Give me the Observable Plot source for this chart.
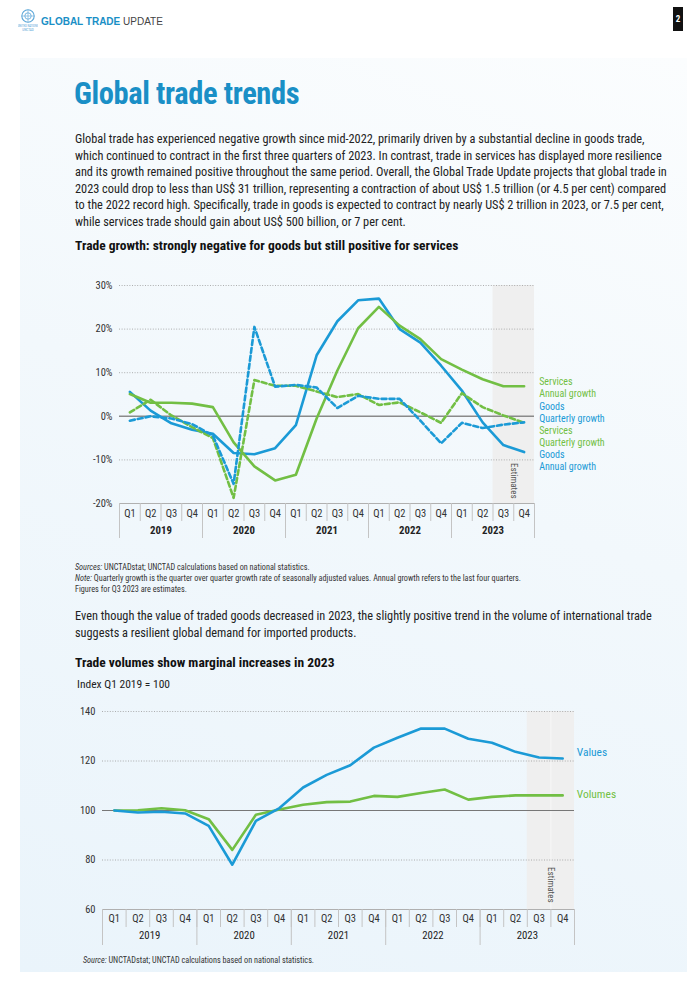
<!DOCTYPE html>
<html>
<head>
<meta charset="utf-8">
<script src="https://cdn.jsdelivr.net/npm/d3@7"></script>
<script src="https://cdn.jsdelivr.net/npm/@observablehq/plot@0.6"></script>
<style>
  html, body { margin: 0; padding: 0; background: #fff; }
  body { width: 700px; height: 990px; position: relative; overflow: hidden;
         font-family: "Liberation Sans Narrow", "Roboto Condensed", "Roboto", sans-serif; color: #222; }
  .abs { position: absolute; }
  #panel { left: 20px; top: 58px; width: 667px; height: 914px;
           background: linear-gradient(20deg, #eaf4fb 0%, #f2f8fc 55%, #fbfdfe 100%); }
  #hdr { left: 41px; top: 16px; font-size: 10px; letter-spacing: 0; color: #444; font-family: "Liberation Sans", Arial, sans-serif; }
  #hdr b { color: #1a8fc6; }
  #pnum { left: 673px; top: 7px; width: 10px; height: 24px; background: #111; color: #fff;
          font-size: 9px; font-weight: bold; text-align: center; line-height: 24px; }
  #title { left: 74px; top: 76px; font-size: 30.5px; font-weight: bold; color: #1a8fc6; letter-spacing: -0.4px; }
  .para { left: 75px; width: 552px; font-size: 12.3px; line-height: 16.6px; color: #222; }
  .para div { text-align: justify; text-align-last: justify; white-space: nowrap; }
  .para div.last { text-align-last: left; }
  .ctitle { left: 75px; font-size: 13.5px; font-weight: bold; color: #111; }
  .note { left: 75px; font-size: 8.2px; line-height: 11px; color: #333; }
  .note i { font-style: italic; }
  #c1 { left: 60px; top: 275px; }
  #c2 { left: 60px; top: 700px; }
</style>
</head>
<body>
<div id="panel" class="abs"></div>

<svg class="abs" style="left:18px;top:8px" width="20" height="24" viewBox="0 0 20 24">
  <circle cx="10" cy="8" r="6.2" fill="none" stroke="#5aa6d8" stroke-width="1.1"/>
  <circle cx="10" cy="8" r="3.2" fill="none" stroke="#5aa6d8" stroke-width="0.8"/>
  <line x1="3.8" y1="8" x2="16.2" y2="8" stroke="#5aa6d8" stroke-width="0.6"/>
  <line x1="10" y1="1.8" x2="10" y2="14.2" stroke="#5aa6d8" stroke-width="0.6"/>
  <text x="10" y="19" font-size="3" text-anchor="middle" fill="#5aa6d8">UNITED NATIONS</text>
  <text x="10" y="23" font-size="3.4" text-anchor="middle" fill="#5aa6d8">UNCTAD</text>
</svg>
<div id="hdr" class="abs"><b>GLOBAL TRADE</b> UPDATE</div>
<div id="pnum" class="abs">2</div>

<div id="title" class="abs">Global trade trends</div>

<div class="para abs" style="top:131px">
  <div>Global trade has experienced negative growth since mid-2022, primarily driven by a substantial decline in goods trade,</div>
  <div>which continued to contract in the first three quarters of 2023. In contrast, trade in services has displayed more resilience</div>
  <div>and its growth remained positive throughout the same period. Overall, the Global Trade Update projects that global trade in</div>
  <div>2023 could drop to less than US$ 31 trillion, representing a contraction of about US$ 1.5 trillion (or 4.5 per cent) compared</div>
  <div>to the 2022 record high. Specifically, trade in goods is expected to contract by nearly US$ 2 trillion in 2023, or 7.5 per cent,</div>
  <div class="last">while services trade should gain about US$ 500 billion, or 7 per cent.</div>
</div>

<div class="ctitle abs" style="top:237px">Trade growth: strongly negative for goods but still positive for services</div>

<div id="c1" class="abs"></div>

<div class="note abs" style="top:562px">
  <div><i>Sources:</i> UNCTADstat; UNCTAD calculations based on national statistics.</div>
  <div><i>Note:</i> Quarterly growth is the quarter over quarter growth rate of seasonally adjusted values. Annual growth refers to the last four quarters.</div>
  <div>Figures for Q3 2023 are estimates.</div>
</div>

<div class="para abs" style="top:608px">
  <div>Even though the value of traded goods decreased in 2023, the slightly positive trend in the volume of international trade</div>
  <div class="last">suggests a resilient global demand for imported products.</div>
</div>

<div class="ctitle abs" style="top:654px">Trade volumes show marginal increases in 2023</div>
<div class="abs" style="left:77px;top:677px;font-size:11.5px;color:#222">Index Q1 2019 = 100</div>

<div id="c2" class="abs"></div>

<div class="note abs" style="top:955px;left:83px"><i>Source:</i> UNCTADstat; UNCTAD calculations based on national statistics.</div>

<script>
// ---------- data ----------
const years = ["2019", "2020", "2021", "2022", "2023"];
const quarterNames = ["Q1", "Q2", "Q3", "Q4"];
const estimatePeriods = ["Q3 2023", "Q4 2023"];

// Chart 1: trade growth (%)
const goodsAnnual       = [5.6, 1.3, -1.6, -3.1, -4.0, -8.4, -8.7, -7.3, -2.0, 14.0, 21.8, 26.6, 27.0, 20.0, 16.9, 11.6, 5.9, -1.4, -6.6, -8.2];
const servicesAnnual    = [5.1, 3.1, 3.1, 2.9, 2.1, -6.0, -11.5, -14.7, -13.4, -0.5, 10.5, 20.2, 25.1, 20.8, 17.7, 13.1, 10.7, 8.5, 6.9, 6.9];
const goodsQuarterly    = [-1.0, 0.0, -0.5, -1.8, -4.4, -15.5, 20.5, 6.8, 7.2, 6.6, 1.9, 4.7, 4.0, 4.0, -1.0, -6.2, -1.5, -2.7, -1.9, -1.4];
const servicesQuarterly = [0.9, 3.8, 0.2, -2.5, -5.0, -18.7, 8.3, 7.0, 7.0, 5.7, 4.4, 5.1, 2.6, 3.2, 0.9, -1.5, 5.3, 2.1, 0.2, -1.5];
const growthTicks = [-20, -10, 0, 10, 20, 30];
const growthLabels = ["Services\nAnnual growth", "Goods\nQuarterly growth", "Services\nQuarterly growth", "Goods\nAnnual growth"];

// Chart 2: index Q1 2019 = 100
const tradeValues  = [100, 99.2, 99.5, 98.8, 93.8, 78.1, 95.8, 101.0, 109.3, 114.4, 118.3, 125.4, 129.4, 133.1, 133.1, 129.0, 127.4, 123.7, 121.4, 121.0];
const tradeVolumes = [100, 100.1, 100.9, 100.1, 96.5, 84.1, 98.3, 100.4, 102.3, 103.4, 103.6, 105.9, 105.5, 107.1, 108.5, 104.4, 105.5, 106.1, 106.1, 106.1];
const indexTicks = [60, 80, 100, 120, 140];
const indexLabels = ["Values", "Volumes"];

// ---------- derived tables ----------
const BLUE = "#1b9ad6", GREEN = "#72bf44";
const periods = years.flatMap(y => quarterNames.map(q => ({label: `${q} ${y}`, q, y})));
periods.forEach((p, i) => p.i = i);
const n = periods.length;
const estIdx = estimatePeriods.map(l => periods.findIndex(p => p.label === l));
const estimateBand = [{x1: d3.min(estIdx) - 0.5, x2: d3.max(estIdx) + 0.5, mid: (d3.min(estIdx) + d3.max(estIdx) + 1) / 2 - 0.5}];
const qEdges = d3.range(n + 1).map(i => i - 0.5);
const yEdges = d3.range(years.length + 1).map(i => i * 4 - 0.5);
const yearCenters = years.map((y, i) => ({y, x: i * 4 + 1.5}));

function toRows(arr) { return arr.map((v, i) => ({i, v})); }

const growthSeries = [
  {name: "Goods Annual", data: goodsAnnual, color: BLUE, dash: null},
  {name: "Services Annual", data: servicesAnnual, color: GREEN, dash: null},
  {name: "Services Quarterly", data: servicesQuarterly, color: GREEN, dash: "5,3"},
  {name: "Goods Quarterly", data: goodsQuarterly, color: BLUE, dash: "5,3"}
];
// label anchors (in % units) placed beside the series' end
const growthLegend = [
  {text: growthLabels[0], color: GREEN, at: 6.75},
  {text: growthLabels[1], color: BLUE, at: 0.9},
  {text: growthLabels[2], color: GREEN, at: -4.6},
  {text: growthLabels[3], color: BLUE, at: -10.1}
];
const indexLegend = [
  {text: indexLabels[0], color: BLUE, at: 123.7},
  {text: indexLabels[1], color: GREEN, at: 106.4}
];

const FONT = '"Liberation Sans Narrow", "Roboto Condensed", "Roboto", sans-serif';

function axisMarks(yMin, opts) {
  return [
    Plot.axisX(qEdges, {tickSize: opts.qTick, tickFormat: () => "", stroke: "#c4c4c4", strokeWidth: 1}),
    Plot.axisX(yEdges, {tickSize: opts.yTick, tickFormat: () => "", stroke: "#c4c4c4", strokeWidth: 1}),
    Plot.axisX(d3.range(n), {tickSize: 0, tickPadding: opts.qPad, tickFormat: i => periods[i].q, fontSize: 10.5, fill: "#333"}),
    Plot.axisX(yearCenters.map(d => d.x), {tickSize: 0, tickPadding: opts.yPad, tickFormat: (x, k) => yearCenters[k].y,
      fontSize: 10.8, fontWeight: opts.yearBold ? "bold" : "normal", fill: "#222"})
  ];
}

// ---------- chart 1 ----------
const c1 = Plot.plot({
  width: 580, height: 270,
  marginTop: 10, marginBottom: 42, marginLeft: 59, marginRight: 106,
  style: {background: "transparent", fontFamily: FONT, fontSize: "10.5px", color: "#333", overflow: "visible"},
  x: {domain: [-0.5, n - 0.5], axis: null},
  y: {domain: [d3.min(growthTicks), d3.max(growthTicks)], axis: null},
  marks: [
    Plot.rect(estimateBand, {x1: "x1", x2: "x2", y1: d3.min(growthTicks), y2: d3.max(growthTicks), fill: "#efefef"}),
    Plot.ruleY(growthTicks.filter(t => t !== 0 && t !== d3.min(growthTicks)), {stroke: "#9a9a9a", strokeDasharray: "1,1.6", strokeWidth: 0.8}),
    Plot.ruleY([d3.min(growthTicks)], {stroke: "#b0b0b0", strokeWidth: 1}),
    Plot.ruleY([0], {stroke: "#8a8a8a", strokeWidth: 1.4}),
    Plot.axisY(growthTicks, {tickSize: 0, tickPadding: 7, tickFormat: d => d + "%", fontSize: 10.5, fill: "#333"}),
    ...axisMarks(d3.min(growthTicks), {qTick: 18, yTick: 35, qPad: 6, yPad: 23, yearBold: true}),
    Plot.text(estimateBand, {x: "mid", y: d3.min(growthTicks), text: () => "Estimates", rotate: 90, textAnchor: "end",
      dy: -5, fontSize: 9, fill: "#555"}),
    ...growthSeries.map(s => Plot.line(toRows(s.data), {x: "i", y: "v", stroke: s.color, strokeWidth: 2.6,
      strokeDasharray: s.dash, strokeLinejoin: "round", curve: "linear"})),
    Plot.text(growthLegend, {x: n - 1, y: "at", text: "text", fill: "color", dx: 15, textAnchor: "start",
      lineHeight: 1.18, fontSize: 10})
  ]
});
document.getElementById("c1").appendChild(c1);

// ---------- chart 2 ----------
const c2 = Plot.plot({
  width: 580, height: 250,
  marginTop: 11, marginBottom: 41, marginLeft: 42, marginRight: 66,
  style: {background: "transparent", fontFamily: FONT, fontSize: "10.5px", color: "#333", overflow: "visible"},
  x: {domain: [-0.5, n - 0.5], axis: null},
  y: {domain: [d3.min(indexTicks), d3.max(indexTicks)], axis: null},
  marks: [
    Plot.rect(estimateBand, {x1: "x1", x2: "x2", y1: d3.min(indexTicks), y2: d3.max(indexTicks), fill: "#efefef"}),
    Plot.ruleX(estIdx.slice(1).map(i => i - 0.5), {y1: d3.min(indexTicks), y2: d3.max(indexTicks), stroke: "#f7f7f7", strokeWidth: 1}),
    Plot.ruleY(indexTicks.filter(t => t !== 100 && t !== d3.min(indexTicks)), {stroke: "#9a9a9a", strokeDasharray: "1,1.6", strokeWidth: 0.8}),
    Plot.ruleY([d3.min(indexTicks)], {stroke: "#b0b0b0", strokeWidth: 1}),
    Plot.ruleY([100], {stroke: "#777", strokeWidth: 1.2}),
    Plot.axisY(indexTicks, {tickSize: 0, tickPadding: 7, fontSize: 10.5, fill: "#333"}),
    ...axisMarks(d3.min(indexTicks), {qTick: 18, yTick: 36, qPad: 5, yPad: 22, yearBold: false}),
    Plot.text(estimateBand, {x: "mid", y: d3.min(indexTicks), text: () => "Estimates", rotate: 90, textAnchor: "end",
      dy: -7, fontSize: 9, fill: "#555"}),
    Plot.line(toRows(tradeVolumes), {x: "i", y: "v", stroke: GREEN, strokeWidth: 2.6, strokeLinejoin: "round"}),
    Plot.line(toRows(tradeValues), {x: "i", y: "v", stroke: BLUE, strokeWidth: 2.6, strokeLinejoin: "round"}),
    Plot.text(indexLegend, {x: n - 1, y: "at", text: "text", fill: "color", dx: 14, textAnchor: "start", fontSize: 11.5})
  ]
});
document.getElementById("c2").appendChild(c2);
</script>
</body>
</html>
